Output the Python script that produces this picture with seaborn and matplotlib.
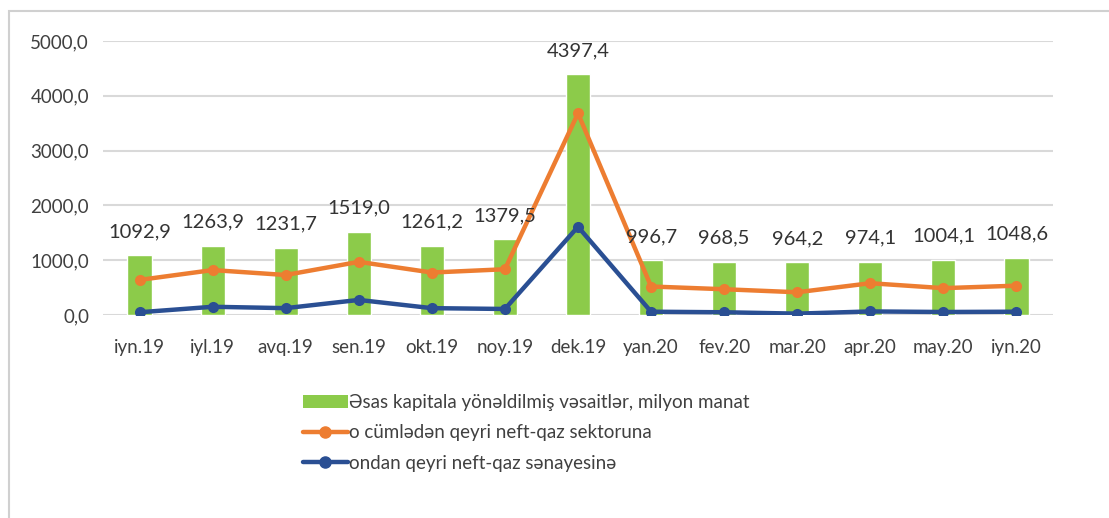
import numpy as np
import pandas as pd
import seaborn as sns
import matplotlib
matplotlib.use("Agg")
import matplotlib.pyplot as plt
from matplotlib.lines import Line2D
from matplotlib.patches import Patch, Rectangle

months = ["iyn.19", "iyl.19", "avq.19", "sen.19", "okt.19", "noy.19", "dek.19",
          "yan.20", "fev.20", "mar.20", "apr.20", "may.20", "iyn.20"]
total = [1092.9, 1263.9, 1231.7, 1519.0, 1261.2, 1379.5, 4397.4,
         996.7, 968.5, 964.2, 974.1, 1004.1, 1048.6]
non_oil_sector = [640, 820, 730, 970, 775, 835, 3680, 520, 470, 415, 580, 490, 535]
non_oil_industry = [50, 150, 125, 275, 125, 110, 1610, 60, 50, 25, 65, 55, 60]
yticks = [0, 1000, 2000, 3000, 4000, 5000]

name_total = "Əsas kapitala yönəldilmiş vəsaitlər, milyon manat"
name_sector = "o cümlədən qeyri neft-qaz sektoruna"
name_industry = "ondan qeyri neft-qaz sənayesinə"

GREEN = "#8CCB4A"
ORANGE = "#ED7D31"
BLUE = "#2A4F93"
GRID = "#D9D9D9"

sns.set_theme(style="white")
plt.rcParams["font.family"] = ["Lato", "DejaVu Sans"]

df = pd.DataFrame({"month": months, "total": total,
                   "sector": non_oil_sector, "industry": non_oil_industry})

fig = plt.figure(figsize=(11.09, 5.18), dpi=100)
ax = fig.add_axes([103/1109, 1-315/518, (1053-103)/1109, (315-41)/518])

sns.barplot(data=df, x="month", y="total", color=GREEN, width=0.33,
            saturation=1, ax=ax, zorder=2)
x = np.arange(len(months))
sns.lineplot(x=x, y=df["sector"], color=ORANGE, lw=3.2, marker="o",
             markersize=8, markeredgewidth=0, ax=ax, zorder=3)
sns.lineplot(x=x, y=df["industry"], color=BLUE, lw=3.2, marker="o",
             markersize=8, markeredgewidth=0, ax=ax, zorder=4)

for i, v in enumerate(total):
    ax.annotate(f"{v:.1f}".replace(".", ","), (i, v), xytext=(0, 17),
                textcoords="offset points", ha="center", va="center",
                fontsize=14.5, color="#333333", zorder=5)

ax.set_ylim(0, 5000)
ax.set_xlim(-0.5, len(months) - 0.5)
ax.set_yticks(yticks)
ax.set_yticklabels([f"{t:.1f}".replace(".", ",") for t in yticks])
ax.set_xticks(x)
ax.set_xticklabels(months)
ax.tick_params(axis="both", length=0, labelsize=13.5, colors="#404040")
ax.tick_params(axis="y", pad=10)
ax.tick_params(axis="x", pad=17)
ax.set_xlabel("")
ax.set_ylabel("")
ax.grid(axis="y", color=GRID, lw=1.5, zorder=0)
ax.set_axisbelow(True)
for s in ax.spines.values():
    s.set_visible(False)

handles = [
    Patch(facecolor=GREEN, edgecolor="none", label=name_total),
    Line2D([0], [0], color=ORANGE, lw=3.2, marker="o", markersize=8, label=name_sector),
    Line2D([0], [0], color=BLUE, lw=3.2, marker="o", markersize=8, label=name_industry),
]
fig.legend(handles=handles, loc="upper left", bbox_to_anchor=(286/1109, 1-377/518),
           frameon=False, fontsize=13.5, handlelength=2.4, handletextpad=0.05,
           labelspacing=0.72, labelcolor="#404040")

fig.add_artist(Rectangle((9/1109, -0.05), 1.1, 1-11/518+0.05,
                         transform=fig.transFigure, fill=False,
                         ec="#D0D0D0", lw=1.5))

fig.savefig("out.png", dpi=100)
